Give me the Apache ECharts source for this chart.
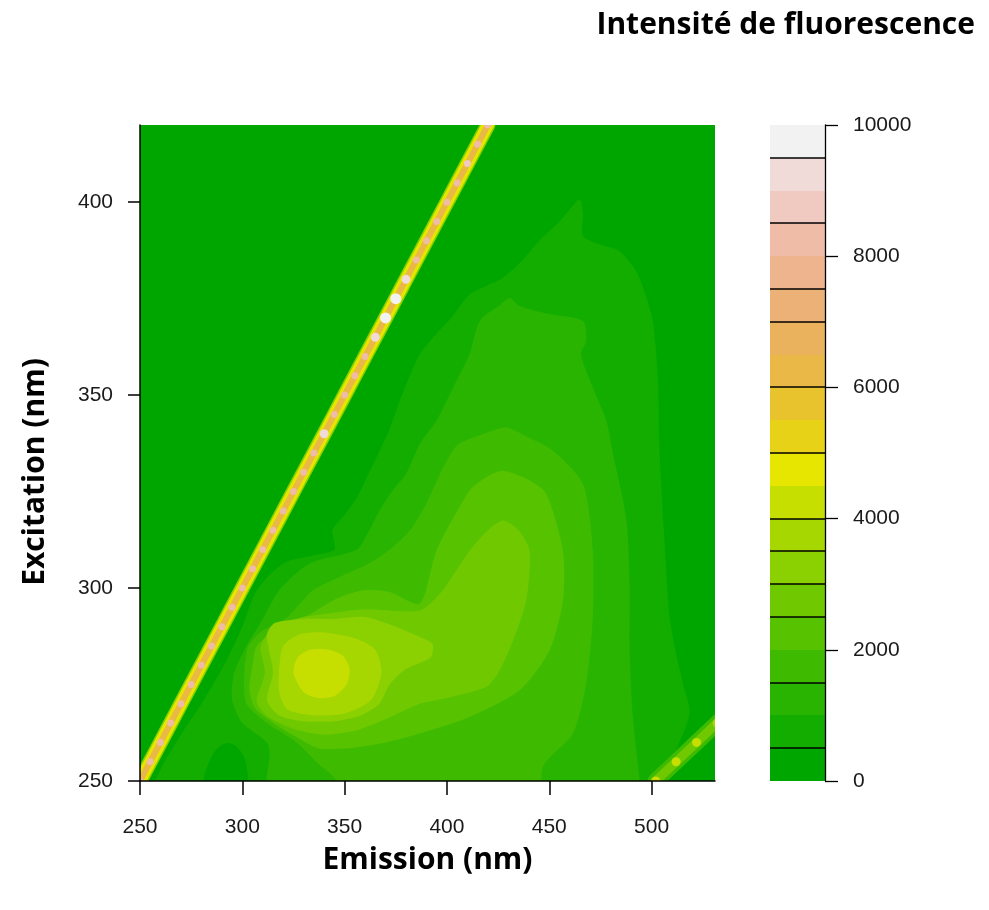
<!DOCTYPE html>
<html>
<head>
<meta charset="utf-8">
<title>Intensité de fluorescence</title>
<script src="https://cdn.jsdelivr.net/npm/echarts@6/dist/echarts.min.js"></script>
<style>
  html, body { margin: 0; padding: 0; background: #fff; }
  #chart { width: 989px; height: 910px; }
</style>
</head>
<body>
<div id="chart"></div>
<script>
// filled contour edges, as [emission, excitation] in nm.
// each band is drawn over the one below it, so band N covers intensity >= N * 500
var band0Edge = [[250, 250], [531, 250], [531, 420], [250, 420]];
var band1Edge = [[464.8, 400.7], [466.5, 397], [466.5, 391.2], [475, 389], [484.4, 387.3],
                 [492.5, 382.1], [497, 376], [500.6, 369.2], [503, 355], [503.9, 335.6],
                 [506, 315], [508.8, 292.5], [512, 283], [515.3, 275.3], [518.6, 267.6],
                 [512, 258], [505, 251], [500, 240], [303, 240], [303, 250], [301, 256],
                 [297, 259], [292, 259.8], [287, 258], [283, 254], [281, 250], [281, 240],
                 [254, 240], [256, 248], [262, 255], [270, 262], [280, 270], [291, 280],
                 [300, 290], [307, 299.4], [320, 306.4], [335, 308.5], [345, 310], [344, 315],
                 [350, 319], [356, 323.4], [362, 330], [371.5, 340.6], [378, 350],
                 [386.7, 360.6], [395, 366], [402, 370], [411, 376.1], [420, 378.5],
                 [427.4, 380.4], [437, 385], [445, 390], [455, 395]];
var band2Edge = [[430.7, 375.2], [435.5, 373.1], [450, 371], [466.5, 369.2], [468.1, 364],
                 [465.5, 360.6], [471.3, 352], [477.9, 343.4], [481.1, 335], [487.6, 318.3],
                 [489.3, 301.1], [489.3, 283.9], [490.9, 266.6], [494.1, 250.3], [495, 240],
                 [313, 240], [313, 259], [300, 265], [295, 271], [296, 278], [302, 285],
                 [310, 292], [318, 299.4], [333, 306.4], [356, 310], [362, 315], [367, 320],
                 [373, 325], [380, 329.6], [386.7, 337.3], [394.9, 343.4], [403, 352],
                 [411, 360.6], [416, 369.2], [425, 373]];
var band3Edge = [[429, 341.6], [440, 339], [451.8, 335.6], [466.5, 327], [471.3, 309.7],
                 [471.3, 292.5], [468.1, 275.3], [461.6, 262.3], [446.9, 253.7], [444, 240],
                 [346, 240], [346, 250], [337, 254.5], [326.5, 260], [312, 265], [302, 270],
                 [301, 278], [303, 285], [310, 289], [321.8, 292.4], [334.5, 299.4],
                 [348, 303], [362, 306.4], [372, 310], [382, 315], [390, 322], [397, 330],
                 [405, 337], [418, 340]];
var band4Edge = [[427.4, 330.4], [440, 328], [448.6, 324.4], [456.7, 309.7], [456.7, 296.8],
                 [450.2, 283.9], [435.5, 273.5], [411.1, 266.6], [386.7, 262.3], [370, 260],
                 [352, 258.5], [337, 258.5], [326, 261.5], [314, 265.5], [306, 269],
                 [303.5, 274], [305, 280], [307, 285], [318, 290], [331.4, 292.8], [345, 297],
                 [359, 299.4], [372, 299], [386.7, 296], [394.9, 309.7], [411.1, 325.3],
                 [420, 329]];
var band5Edge = [[427.4, 317.5], [435, 315], [440.4, 309.7], [438.8, 296.8], [432, 286],
                 [425.8, 278.7], [419.3, 274.4], [400, 271.5], [386.7, 270], [370, 266],
                 [355, 263], [340, 262], [325, 263.5], [313, 266.5], [307, 270.5], [311, 278],
                 [309, 285], [316, 290], [330, 292.5], [343, 293.5], [360, 294.5],
                 [386.7, 294.2], [396.5, 298.5], [411.1, 309.7], [420, 315]];
var band6Edge = [[316, 291], [330, 292], [345, 292], [360, 292.5], [375, 290], [386, 287.5],
                 [393, 285.5], [392, 282], [380, 279], [372, 275], [367, 270], [358, 267],
                 [345, 265.5], [330, 265.5], [318, 267], [312, 271], [315, 278], [313, 284],
                 [312, 288]];
var band7Edge = [[318, 279], [320, 285], [328, 288], [340, 288.5], [355, 287], [365, 284],
                 [368, 278], [363, 271], [350, 267.5], [335, 267], [322, 268.5], [318, 273]];
var band8Edge = [[325, 278], [327, 282], [333, 284], [342, 284], [349, 282.5], [352.5, 279],
                 [351, 275], [345, 272], [337, 271.5], [330, 273]];
var contourEdges = [band0Edge, band1Edge, band2Edge, band3Edge, band4Edge,
                    band5Edge, band6Edge, band7Edge, band8Edge];

var bandStep = 500;
// terrain palette, 20 bands from 0 to 10000
var bandColors = ['#00A600', '#13AD00', '#28B400', '#3EBB00', '#56C200',
                  '#70C900', '#8BD000', '#A7D700', '#C6DE00', '#E6E600',
                  '#E7D217', '#E8C32E', '#E9B846', '#EBB25E', '#ECB176',
                  '#EDB48E', '#EEBCA7', '#F0C9C0', '#F1DBD9', '#F2F2F2'];

// Rayleigh scatter ridge (em = ex), peak intensity at each excitation step
var rayleighEx = [250, 255, 260, 265, 270, 275, 280, 285, 290, 295,
                  300, 305, 310, 315, 320, 325, 330, 335, 340, 345,
                  350, 355, 360, 365, 370, 375, 380, 385, 390, 395,
                  400, 405, 410, 415, 420];
var rayleighEm = [250, 255, 260, 265, 270, 275, 280, 285, 290, 295,
                  300, 305, 310, 315, 320, 325, 330, 335, 340, 345,
                  350, 355, 360, 365, 370, 375, 380, 385, 390, 395,
                  400, 405, 410, 415, 420];
var rayleighPeak = [7800, 8100, 8200, 8200, 8200, 8200, 8200, 8300, 8200, 8200,
                    8300, 8200, 8200, 8100, 8200, 8100, 8200, 8100, 9200, 8100,
                    8000, 8100, 8200, 9100, 9800, 9800, 9100, 8300, 8200, 8200,
                    8200, 8300, 8700, 8200, 8100];

// second order scatter (em ~ 2 ex), bottom right corner
var secondOrderEx = [250, 255, 260, 265, 270];
var secondOrderEm = [502, 512, 522, 532, 542];
var secondOrderPeak = [4100, 4200, 4200, 3900, 3900];

var xTicks = [250, 300, 350, 400, 450, 500];
var yTicks = [250, 300, 350, 400];
var colorbarBands = [0, 500, 1000, 1500, 2000, 2500, 3000, 3500, 4000, 4500,
                     5000, 5500, 6000, 6500, 7000, 7500, 8000, 8500, 9000, 9500];
var colorbarEdges = [500, 1500, 2500, 3000, 3500, 4000, 5000, 6000, 7000, 7500, 8500, 9500];

var contourData = contourEdges.map(function (edge, i) {
    return [edge[0][0], edge[0][1], i * bandStep + bandStep / 2];
});
var rayleighData = rayleighEx.map(function (ex, i) {
    return [rayleighEm[i], ex, rayleighPeak[i]];
});
var secondOrderData = secondOrderEx.map(function (ex, i) {
    return [secondOrderEm[i], ex, secondOrderPeak[i]];
});

function renderContour(params, api) {
    var pts = contourEdges[params.dataIndex].map(function (p) { return api.coord(p); });
    return {
        type: 'polygon',
        shape: {points: pts, smooth: params.dataIndex === 0 ? 0 : 0.25},
        style: {fill: api.visual('color')}
    };
}

// scatter ridges: a stack of strokes through all points, then one dot per point
function ridgeRenderer(points, layers, dotSize) {
    return function (params, api) {
        var children = [];
        if (params.dataIndex === 0) {
            var pts = points.map(function (d) { return api.coord([d[0], d[1]]); });
            layers.forEach(function (layer) {
                children.push({
                    type: 'polyline',
                    shape: {points: pts},
                    style: {fill: 'none', stroke: layer.color, lineWidth: layer.width,
                            lineCap: 'round', lineJoin: 'round'}
                });
            });
        }
        var p = api.coord([api.value(0), api.value(1)]);
        children.push({
            type: 'circle',
            shape: {cx: p[0], cy: p[1], r: dotSize(api.value(2)) / 2},
            style: {fill: api.visual('color')}
        });
        return {type: 'group', children: children};
    };
}

function renderBand(params, api) {
    var lo = api.value(1);
    var cs = params.coordSys;
    var top = Math.round(api.coord([0, lo + bandStep])[1]);
    var bottom = Math.round(api.coord([0, lo])[1]);
    var children = [{
        type: 'rect',
        shape: {x: cs.x, y: top, width: cs.width, height: bottom - top},
        style: {fill: bandColors[params.dataIndex]}
    }];
    if (colorbarEdges.indexOf(lo) >= 0) {
        children.push({
            type: 'line',
            shape: {x1: cs.x, y1: bottom, x2: cs.x + cs.width, y2: bottom},
            style: {stroke: '#000', lineWidth: 1.3}
        });
    }
    return {type: 'group', children: children};
}

var tickFont = {fontFamily: 'Liberation Sans, Arial, sans-serif', fontSize: 21, color: '#1a1a1a'};
var nameFont = {fontFamily: 'Open Sans, sans-serif', fontWeight: 'bold', fontSize: 30, color: '#000'};

var myChart = echarts.init(document.getElementById('chart'));
var option = {
    backgroundColor: '#fff',
    animation: false,
    title: {
        text: 'Intensité de fluorescence',
        right: 9,
        top: 5,
        textStyle: nameFont
    },
    grid: [
        {left: 140, top: 125, width: 575, height: 656},
        {left: 770, top: 125, width: 55, height: 656}
    ],
    xAxis: [{
        type: 'value',
        min: 250,
        max: 531,
        interval: 50,
        z: 10,
        name: 'Emission (nm)',
        nameLocation: 'middle',
        nameGap: 64,
        nameTextStyle: nameFont,
        axisLine: {show: true, onZero: false, lineStyle: {color: '#000', width: 1.5}},
        axisTick: {show: true, length: 14, customValues: xTicks, lineStyle: {color: '#000', width: 1.5}},
        axisLabel: Object.assign({customValues: xTicks, margin: 36}, tickFont),
        splitLine: {show: false}
    }, {
        gridIndex: 1,
        type: 'category',
        data: [''],
        show: false
    }],
    yAxis: [{
        type: 'value',
        min: 250,
        max: 420,
        interval: 50,
        z: 10,
        name: 'Excitation (nm)',
        nameLocation: 'middle',
        nameGap: 90,
        nameTextStyle: Object.assign({padding: [0, 38, 0, 0]}, nameFont),
        axisLine: {show: true, onZero: false, lineStyle: {color: '#000', width: 1.5}},
        axisTick: {show: true, length: 12, customValues: yTicks, lineStyle: {color: '#000', width: 1.5}},
        axisLabel: Object.assign({customValues: yTicks, margin: 27}, tickFont),
        splitLine: {show: false}
    }, {
        gridIndex: 1,
        type: 'value',
        position: 'right',
        min: 0,
        max: 10000,
        interval: 2000,
        z: 10,
        axisLine: {show: true, lineStyle: {color: '#000', width: 1.3}},
        axisTick: {show: true, length: 13, lineStyle: {color: '#000', width: 1.3}},
        axisLabel: Object.assign({margin: 28, formatter: function (v) { return String(v); }}, tickFont),
        splitLine: {show: false}
    }],
    visualMap: {
        type: 'piecewise',
        show: false,
        dimension: 2,
        seriesIndex: [0, 1, 2],
        pieces: bandColors.map(function (c, i) {
            return {gte: i * bandStep, lt: (i + 1) * bandStep, color: c};
        })
    },
    series: [{
        type: 'custom',
        renderItem: renderContour,
        data: contourData,
        encode: {x: 0, y: 1},
        clip: true,
        silent: true
    }, {
        type: 'custom',
        renderItem: ridgeRenderer(rayleighData, [
            {color: '#8BD000', width: 15},
            {color: '#E6E600', width: 12},
            {color: '#E9B846', width: 6}
        ], function (v) { return v > 9500 ? 11 : (v > 9000 ? 9 : 7); }),
        data: rayleighData,
        encode: {x: 0, y: 1},
        clip: true,
        silent: true
    }, {
        type: 'custom',
        renderItem: ridgeRenderer(secondOrderData, [
            {color: '#3EBB00', width: 16},
            {color: '#70C900', width: 9}
        ], function () { return 9; }),
        data: secondOrderData,
        encode: {x: 0, y: 1},
        clip: true,
        silent: true
    }, {
        type: 'custom',
        xAxisIndex: 1,
        yAxisIndex: 1,
        renderItem: renderBand,
        data: colorbarBands.map(function (lo) { return [0, lo]; }),
        encode: {x: 0, y: 1},
        silent: true
    }]
};
myChart.setOption(option);
</script>
</body>
</html>
